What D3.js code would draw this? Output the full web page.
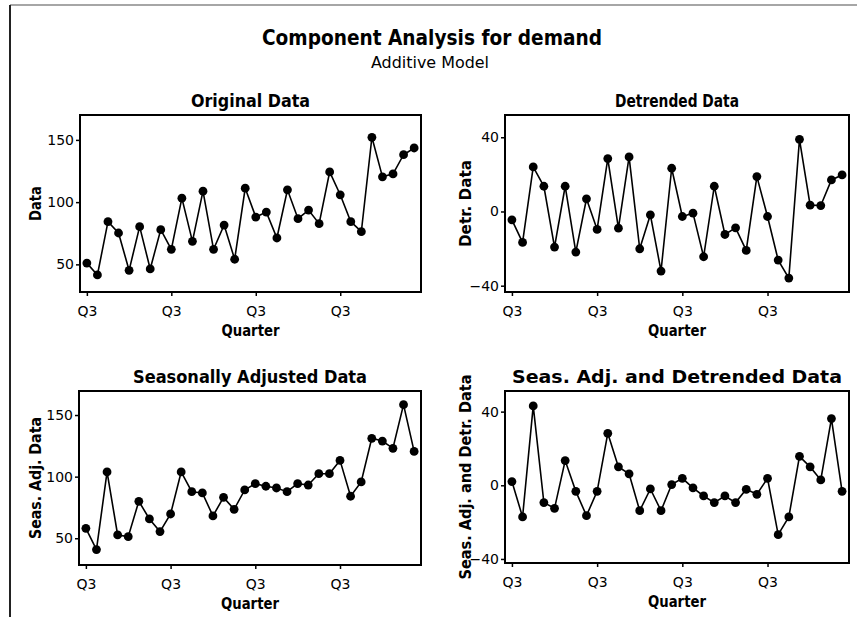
<!DOCTYPE html>
<html>
<head>
<meta charset="utf-8">
<script src="https://cdn.jsdelivr.net/npm/d3@7"></script>
<style>
  html, body { margin: 0; padding: 0; background: #fff; }
  svg text { font-family: "DejaVu Sans", sans-serif; fill: #000; }
</style>
</head>
<body>
<svg id="chart" width="857" height="617"></svg>
<script>
// Quarterly demand series, starting at a Q3
const quarterTickLabels = ["Q3", "Q3", "Q3", "Q3"];
const quarterTickIndex = [0, 8, 16, 24];

const originalData = [51, 41.5, 84.3, 75.2, 45.2, 80.3, 46.3, 77.9, 62.1, 103.2, 68.5, 108.8,
  62.1, 81.6, 54.1, 111.2, 88, 92, 71.2, 109.9, 86.7, 93.6, 82.7, 124.3,
  105.9, 84.3, 76.3, 152.1, 120.3, 122.7, 138.1, 143.5];

const detrendedData = [-4.5, -16.7, 24, 13.6, -19.2, 13.6, -21.9, 6.8, -9.7, 28.5, -9, 29.4,
  -20.1, -1.8, -32.1, 23.3, -2.7, -0.9, -24.4, 13.6, -12.4, -8.8, -21, 18.8,
  -2.7, -26.2, -35.9, 38.9, 3.4, 3.2, 17, 19.7];

const seasAdjData = [58.1, 40.8, 103.8, 52.7, 51.3, 80, 65.7, 55.4, 69.7, 103.8, 87.8, 86.8,
  68.1, 83.2, 73.5, 89.2, 94.3, 92.2, 90.8, 87.8, 94.3, 93.2, 102.4, 102.4,
  113.2, 84.1, 95.7, 131.1, 128.9, 123, 158.4, 120.5];

const seasAdjDetrData = [2, -17.2, 43.1, -9.4, -12.5, 13.4, -3.3, -16.5, -3.3, 28.2, 10, 6.2,
  -13.8, -2, -13.8, 0.4, 3.8, -1.4, -5.8, -9.4, -5.8, -9.4, -2.2, -4.9,
  3.8, -26.8, -17.2, 15.7, 10, 2.9, 36.2, -3.3];

const levelTicks = [50, 100, 150];
const deviationTicks = [-40, 0, 40];

const panelTitles = ["Original Data", "Detrended Data", "Seasonally Adjusted Data", "Seas. Adj. and Detrended Data"];
const panelYLabels = ["Data", "Detr. Data", "Seas. Adj. Data", "Seas. Adj. and Detr. Data"];
const panelSeries = [originalData, detrendedData, seasAdjData, seasAdjDetrData];
const panelYTicks = [levelTicks, deviationTicks, levelTicks, deviationTicks];
const panelYDomains = [[27.8, 170], [-43.4, 52], [28.3, 169.5], [-42.2, 51.2]];

// plot frames [left, top, right, bottom], title widths and y-label baselines
const panelLayout = [
  { box: [80, 115, 421, 292], titleW: 119, yLabelX: 41, yLabelW: 35 },
  { box: [505, 115, 849, 292], titleW: 124, yLabelX: 471, yLabelW: 87 },
  { box: [79, 391, 421, 565], titleW: 234, yLabelX: 41, yLabelW: 122 },
  { box: [505, 391, 849, 563], titleW: 330, yLabelX: 471, yLabelW: 205 }
];

const svg = d3.select("#chart");

// outer frame (top and left edges)
svg.append("line").attr("x1", 10).attr("y1", 5).attr("x2", 857).attr("y2", 5)
  .attr("stroke", "#888").attr("stroke-width", 1.5);
svg.append("line").attr("x1", 10).attr("y1", 5).attr("x2", 10).attr("y2", 617)
  .attr("stroke", "#222").attr("stroke-width", 2);

svg.append("text").attr("x", 432).attr("y", 45).attr("text-anchor", "middle")
  .attr("font-size", 22).attr("font-weight", "bold")
  .attr("textLength", 340).attr("lengthAdjust", "spacingAndGlyphs")
  .text("Component Analysis for demand");
svg.append("text").attr("x", 430).attr("y", 68).attr("text-anchor", "middle")
  .attr("font-size", 16).attr("textLength", 118).attr("lengthAdjust", "spacingAndGlyphs")
  .text("Additive Model");

panelSeries.forEach((values, k) => {
  const L = panelLayout[k];
  const [x0, y0, x1, y1] = L.box;
  const n = values.length;
  const x = d3.scaleLinear().domain([-0.65, n - 1 + 0.65]).range([x0, x1]);
  const y = d3.scaleLinear().domain(panelYDomains[k]).range([y1, y0]);
  const g = svg.append("g");

  // frame
  g.append("rect").attr("x", x0).attr("y", y0).attr("width", x1 - x0).attr("height", y1 - y0)
    .attr("fill", "none").attr("stroke", "#000").attr("stroke-width", 2);

  // axes
  const yAxis = d3.axisLeft(y).tickValues(panelYTicks[k]).tickSize(4).tickPadding(2).tickFormat(d3.format("d"));
  const ya = g.append("g").attr("transform", `translate(${x0},0)`).call(yAxis);
  const xAxis = d3.axisBottom(x).tickValues(quarterTickIndex).tickSize(4).tickPadding(10)
    .tickFormat((d, i) => quarterTickLabels[i]);
  const xa = g.append("g").attr("transform", `translate(0,${y1})`).call(xAxis);
  [ya, xa].forEach(a => {
    a.select(".domain").remove();
    a.selectAll(".tick line").attr("stroke", "#000").attr("stroke-width", 1.5);
    a.selectAll(".tick text").attr("font-size", 14).attr("font-family", "'DejaVu Sans', sans-serif");
  });

  // series
  const line = d3.line().x((d, i) => x(i)).y(d => y(d));
  g.append("path").datum(values).attr("d", line)
    .attr("fill", "none").attr("stroke", "#000").attr("stroke-width", 1.6);
  g.selectAll("circle").data(values).join("circle")
    .attr("cx", (d, i) => x(i)).attr("cy", d => y(d)).attr("r", 4.4).attr("fill", "#000");

  // titles
  const cx = (x0 + x1) / 2;
  g.append("text").attr("x", cx).attr("y", y0 - 8).attr("text-anchor", "middle")
    .attr("font-size", 17.5).attr("font-weight", "bold")
    .attr("textLength", L.titleW).attr("lengthAdjust", "spacingAndGlyphs").text(panelTitles[k]);
  g.append("text").attr("x", cx).attr("y", y1 + 44).attr("text-anchor", "middle")
    .attr("font-size", 15).attr("font-weight", "bold")
    .attr("textLength", 58).attr("lengthAdjust", "spacingAndGlyphs").text("Quarter");
  g.append("text").attr("transform", `translate(${L.yLabelX},${(y0 + y1) / 2}) rotate(-90)`)
    .attr("text-anchor", "middle").attr("font-size", 15).attr("font-weight", "bold")
    .attr("textLength", L.yLabelW).attr("lengthAdjust", "spacingAndGlyphs").text(panelYLabels[k]);
});
</script>
</body>
</html>
